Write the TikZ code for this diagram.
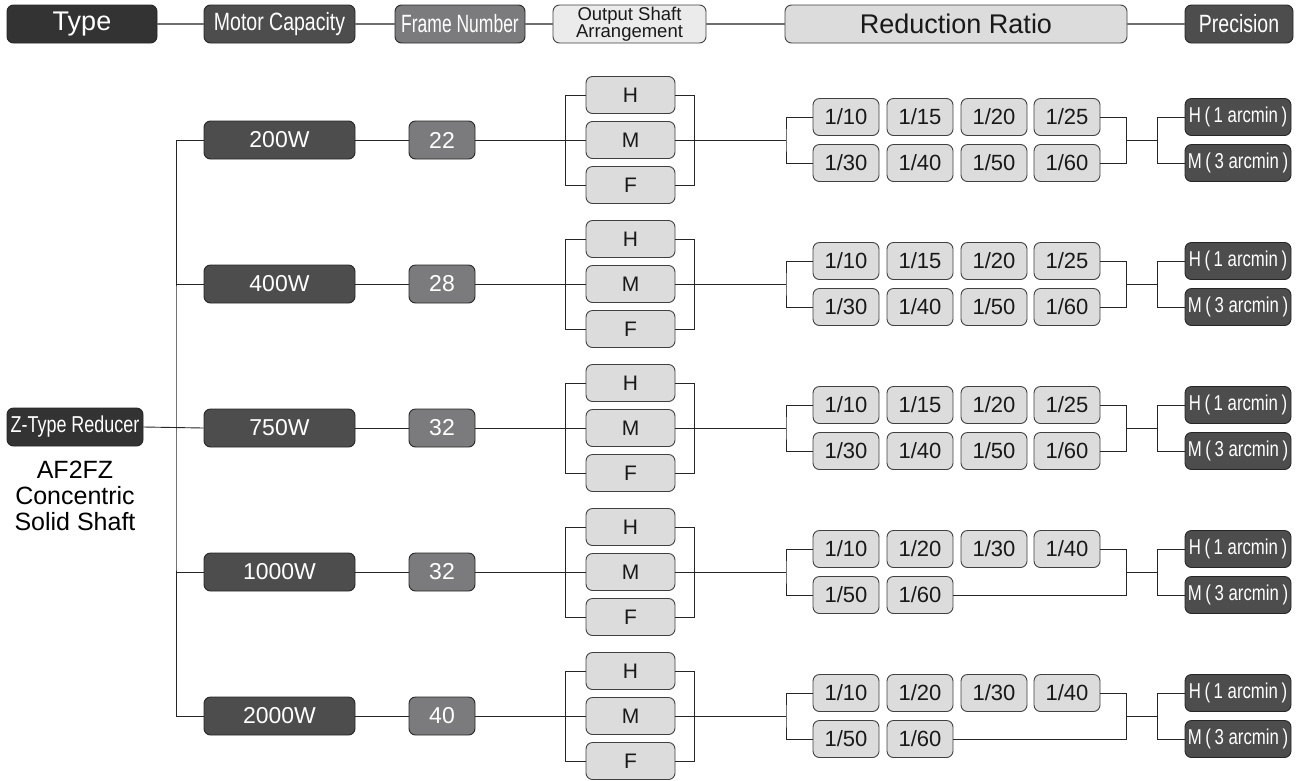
\documentclass[tikz,border=0pt]{standalone}
\usepackage{fontspec}
\setmainfont{Liberation Sans}
\newfontfamily\narrowfont{Liberation Sans}[FakeStretch=0.78]
\newfontfamily\narrowerfont{Liberation Sans}[FakeStretch=0.70]
\usepackage{tikz}
\usetikzlibrary{positioning,calc}
\definecolor{boxblack}{HTML}{333333}
\definecolor{boxdark}{HTML}{4D4D4D}
\definecolor{boxmid}{HTML}{7B7B7D}
\definecolor{boxlight}{HTML}{DCDCDC}
\definecolor{boxpale}{HTML}{EBEBEB}
\definecolor{linegray}{HTML}{6E6E6E}
\tikzset{
  cell/.style={draw=black!85, line width=0.9pt, rounded corners=6.5pt, inner sep=0pt},
  darkcell/.style={cell, fill=boxdark, text=white},
  midcell/.style={cell, fill=boxmid, text=white},
  lightcell/.style={cell, fill=boxlight, text=black!90, draw=black!75},
  head/.style={minimum height=38pt},
  motor/.style={darkcell, minimum width=151pt, minimum height=38pt, font=\fontsize{23}{26}\selectfont},
  frame/.style={midcell, minimum width=66pt, minimum height=38pt, font=\fontsize{23}{26}\selectfont},
  shaft/.style={lightcell, minimum width=89pt, minimum height=37pt, font=\fontsize{21}{24}\selectfont},
  ratio/.style={lightcell, minimum width=66pt, minimum height=37pt, font=\fontsize{22}{25}\selectfont},
  prec/.style={darkcell, minimum width=106pt, minimum height=37pt, font=\narrowfont\fontsize{21.5}{24}\selectfont},
  link/.style={draw=black!85, line width=0.9pt},
  headlink/.style={draw=linegray, line width=1.4pt}
}
\begin{document}
\begin{tikzpicture}[x=1pt, y=-1pt]
  \useasboundingbox (0,0) rectangle (1301,780);

  % header row
  \node[cell, head, fill=boxblack, text=white, minimum width=150pt, font=\fontsize{27}{30}\selectfont] (htype) at (82,24) {Type};
  \node[darkcell, head, minimum width=151pt, font=\narrowfont\fontsize{25}{28}\selectfont] (hmotor) at (279.5,24) {Motor Capacity};
  \node[midcell, head, minimum width=130pt, font=\narrowerfont\fontsize{25}{28}\selectfont] (hframe) at (460,24) {Frame Number};
  \node[lightcell, head, fill=boxpale, minimum width=153pt, align=center, font=\fontsize{18.5}{13.5}\selectfont] (hshaft) at (629.5,24) {Output Shaft\\Arrangement};
  \node[lightcell, head, minimum width=342pt, font=\fontsize{27}{30}\selectfont] (hratio) at (956,24) {Reduction Ratio};
  \node[darkcell, head, minimum width=108pt, font=\narrowfont\fontsize{25}{28}\selectfont] (hprec) at (1239,24) {Precision};
  \draw[headlink] (htype) -- (hmotor);
  \draw[headlink] (hmotor) -- (hframe);
  \draw[headlink] (hframe) -- (hshaft);
  \draw[headlink] (hshaft) -- (hratio);
  \draw[headlink] (hratio) -- (hprec);

  % type
  \node[cell, fill=boxblack, text=white, minimum width=136pt, minimum height=38pt, font=\narrowfont\fontsize{23}{26}\selectfont] (red) at (75,427) {Z-Type Reducer};
  \node[align=center, anchor=north, inner sep=0pt, font=\fontsize{25}{26}\selectfont] (sub) at (75,461) {AF2FZ\\Concentric\\Solid Shaft};

  % motor capacity
  \node[motor] (ma) at (279.5,140) {200W};
  \node[motor] (mb) at (279.5,284) {400W};
  \node[motor] (mc) at (279.5,428) {750W};
  \node[motor] (md) at (279.5,572) {1000W};
  \node[motor] (me) at (279.5,716) {2000W};
  \coordinate (jm) at (176,428);
  \draw[link] (red.east) -- (mc.west);
  \draw[link] (ma.west) -| (jm) |- (me.west);
  \draw[link] (mb.west) -- (mb.west -| jm);
  \draw[link] (md.west) -- (md.west -| jm);

  % frame number
  \node[frame] (na) at (442,140) {22};
  \node[frame] (nb) at (442,284) {28};
  \node[frame] (nc) at (442,428) {32};
  \node[frame] (nd) at (442,572) {32};
  \node[frame] (ne) at (442,716) {40};
  \draw[link] (ma) -- (na);
  \draw[link] (mb) -- (nb);
  \draw[link] (mc) -- (nc);
  \draw[link] (md) -- (nd);
  \draw[link] (me) -- (ne);

  % row 200W
  \node[shaft] (sha) at (630.5,95) {H};
  \node[shaft] (sma) at (630.5,140) {M};
  \node[shaft] (sfa) at (630.5,185) {F};
  \node[ratio] (ra1) at (846,117) {1/10};
  \node[ratio] (ra2) at (920,117) {1/15};
  \node[ratio] (ra3) at (994,117) {1/20};
  \node[ratio] (ra4) at (1067,117) {1/25};
  \node[ratio] (ra5) at (846,163) {1/30};
  \node[ratio] (ra6) at (920,163) {1/40};
  \node[ratio] (ra7) at (994,163) {1/50};
  \node[ratio] (ra8) at (1067,163) {1/60};
  \node[prec] (pha) at (1238,117) {H\,(\,1 arcmin\,)};
  \node[prec] (pma) at (1238,163) {M\,(\,3 arcmin\,)};
  \coordinate (jla) at (786,140);
  \coordinate (jra) at (1126,140);
  \coordinate (jpa) at (1157,140);
  \draw[link] (na.east) -- (sma.west);
  \draw[link] (sha.west) -- ++(-20,0) |- (sfa.west);
  \draw[link] (sha.east) -- ++(19,0) |- (sfa.east);
  \draw[link] (sma.east) -- (jla);
  \draw[link] (ra1.west) -| (jla) |- (ra5.west);
  \draw[link] (ra4.east) -| (jra) |- (ra8.east);
  \draw[link] (jra) -- (jpa);
  \draw[link] (pha.west) -| (jpa) |- (pma.west);

  % row 400W
  \node[shaft] (shb) at (630.5,239) {H};
  \node[shaft] (smb) at (630.5,284) {M};
  \node[shaft] (sfb) at (630.5,329) {F};
  \node[ratio] (rb1) at (846,261) {1/10};
  \node[ratio] (rb2) at (920,261) {1/15};
  \node[ratio] (rb3) at (994,261) {1/20};
  \node[ratio] (rb4) at (1067,261) {1/25};
  \node[ratio] (rb5) at (846,307) {1/30};
  \node[ratio] (rb6) at (920,307) {1/40};
  \node[ratio] (rb7) at (994,307) {1/50};
  \node[ratio] (rb8) at (1067,307) {1/60};
  \node[prec] (phb) at (1238,261) {H\,(\,1 arcmin\,)};
  \node[prec] (pmb) at (1238,307) {M\,(\,3 arcmin\,)};
  \coordinate (jlb) at (786,284);
  \coordinate (jrb) at (1126,284);
  \coordinate (jpb) at (1157,284);
  \draw[link] (nb.east) -- (smb.west);
  \draw[link] (shb.west) -- ++(-20,0) |- (sfb.west);
  \draw[link] (shb.east) -- ++(19,0) |- (sfb.east);
  \draw[link] (smb.east) -- (jlb);
  \draw[link] (rb1.west) -| (jlb) |- (rb5.west);
  \draw[link] (rb4.east) -| (jrb) |- (rb8.east);
  \draw[link] (jrb) -- (jpb);
  \draw[link] (phb.west) -| (jpb) |- (pmb.west);

  % row 750W
  \node[shaft] (shc) at (630.5,383) {H};
  \node[shaft] (smc) at (630.5,428) {M};
  \node[shaft] (sfc) at (630.5,473) {F};
  \node[ratio] (rc1) at (846,405) {1/10};
  \node[ratio] (rc2) at (920,405) {1/15};
  \node[ratio] (rc3) at (994,405) {1/20};
  \node[ratio] (rc4) at (1067,405) {1/25};
  \node[ratio] (rc5) at (846,451) {1/30};
  \node[ratio] (rc6) at (920,451) {1/40};
  \node[ratio] (rc7) at (994,451) {1/50};
  \node[ratio] (rc8) at (1067,451) {1/60};
  \node[prec] (phc) at (1238,405) {H\,(\,1 arcmin\,)};
  \node[prec] (pmc) at (1238,451) {M\,(\,3 arcmin\,)};
  \coordinate (jlc) at (786,428);
  \coordinate (jrc) at (1126,428);
  \coordinate (jpc) at (1157,428);
  \draw[link] (nc.east) -- (smc.west);
  \draw[link] (shc.west) -- ++(-20,0) |- (sfc.west);
  \draw[link] (shc.east) -- ++(19,0) |- (sfc.east);
  \draw[link] (smc.east) -- (jlc);
  \draw[link] (rc1.west) -| (jlc) |- (rc5.west);
  \draw[link] (rc4.east) -| (jrc) |- (rc8.east);
  \draw[link] (jrc) -- (jpc);
  \draw[link] (phc.west) -| (jpc) |- (pmc.west);

  % row 1000W
  \node[shaft] (shd) at (630.5,527) {H};
  \node[shaft] (smd) at (630.5,572) {M};
  \node[shaft] (sfd) at (630.5,617) {F};
  \node[ratio] (rd1) at (846,549) {1/10};
  \node[ratio] (rd2) at (920,549) {1/20};
  \node[ratio] (rd3) at (994,549) {1/30};
  \node[ratio] (rd4) at (1067,549) {1/40};
  \node[ratio] (rd5) at (846,595) {1/50};
  \node[ratio] (rd6) at (920,595) {1/60};
  \node[prec] (phd) at (1238,549) {H\,(\,1 arcmin\,)};
  \node[prec] (pmd) at (1238,595) {M\,(\,3 arcmin\,)};
  \coordinate (jld) at (786,572);
  \coordinate (jrd) at (1126,572);
  \coordinate (jpd) at (1157,572);
  \draw[link] (nd.east) -- (smd.west);
  \draw[link] (shd.west) -- ++(-20,0) |- (sfd.west);
  \draw[link] (shd.east) -- ++(19,0) |- (sfd.east);
  \draw[link] (smd.east) -- (jld);
  \draw[link] (rd1.west) -| (jld) |- (rd5.west);
  \draw[link] (rd4.east) -| (jrd) |- (rd6.east);
  \draw[link] (jrd) -- (jpd);
  \draw[link] (phd.west) -| (jpd) |- (pmd.west);

  % row 2000W
  \node[shaft] (she) at (630.5,671) {H};
  \node[shaft] (sme) at (630.5,716) {M};
  \node[shaft] (sfe) at (630.5,761) {F};
  \node[ratio] (re1) at (846,693) {1/10};
  \node[ratio] (re2) at (920,693) {1/20};
  \node[ratio] (re3) at (994,693) {1/30};
  \node[ratio] (re4) at (1067,693) {1/40};
  \node[ratio] (re5) at (846,739) {1/50};
  \node[ratio] (re6) at (920,739) {1/60};
  \node[prec] (phe) at (1238,693) {H\,(\,1 arcmin\,)};
  \node[prec] (pme) at (1238,739) {M\,(\,3 arcmin\,)};
  \coordinate (jle) at (786,716);
  \coordinate (jre) at (1126,716);
  \coordinate (jpe) at (1157,716);
  \draw[link] (ne.east) -- (sme.west);
  \draw[link] (she.west) -- ++(-20,0) |- (sfe.west);
  \draw[link] (she.east) -- ++(19,0) |- (sfe.east);
  \draw[link] (sme.east) -- (jle);
  \draw[link] (re1.west) -| (jle) |- (re5.west);
  \draw[link] (re4.east) -| (jre) |- (re6.east);
  \draw[link] (jre) -- (jpe);
  \draw[link] (phe.west) -| (jpe) |- (pme.west);
\end{tikzpicture}
\end{document}
